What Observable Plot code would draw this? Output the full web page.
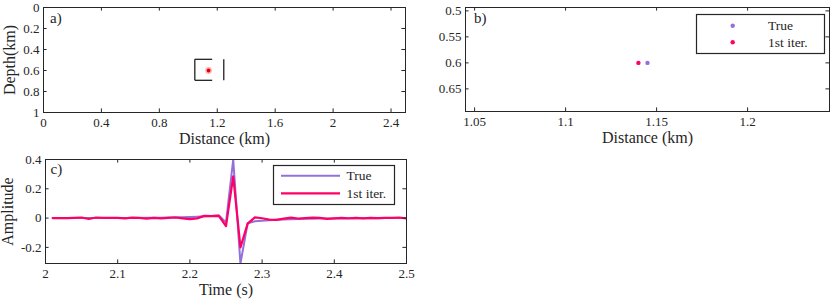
<!DOCTYPE html>
<html><head><meta charset="utf-8">
<script src="https://cdn.jsdelivr.net/npm/d3@7"></script>
<script src="https://cdn.jsdelivr.net/npm/@observablehq/plot@0.6"></script>
<style>
body{margin:0;background:#fff;}
#chart{position:relative;width:830px;height:300px;font-family:"Liberation Serif",serif;color:#262626;}
#chart svg{position:absolute;left:0;top:0;}
#chart svg text{font-family:"Liberation Serif",serif !important;font-weight:normal;}
</style></head><body><div id="chart"></div>
<script>
// ---------- data ----------
const timeS = [2.01,2.02,2.03,2.04,2.05,2.06,2.07,2.08,2.09,2.10,2.11,2.12,2.13,2.14,2.15,2.16,2.17,2.18,2.19,2.20,2.21,2.22,2.23,2.24,2.25,2.26,2.27,2.28,2.29,2.30,2.31,2.32,2.33,2.34,2.35,2.36,2.37,2.38,2.39,2.40,2.41,2.42,2.43,2.44,2.45,2.46,2.47,2.48,2.49,2.50];
const trueTrace = [0,0,0,0,0,0,0,0,0,0.001,0.001,0.001,0.001,0.002,0.002,0.003,0.004,0.005,0.006,0.008,0.010,0.012,0.015,0.020,-0.030,0.400,-0.310,-0.035,-0.022,-0.018,-0.015,-0.012,-0.010,-0.008,-0.006,-0.005,-0.004,-0.003,-0.003,-0.002,-0.002,-0.002,-0.001,-0.001,-0.001,-0.001,0,0,0,0];
const iterTrace = [0,0,0,0.002,0.004,-0.006,0.004,0.001,0.002,0.001,-0.002,0.003,0.001,-0.003,0.002,-0.002,0.001,0.004,-0.002,-0.007,-0.002,0.015,0.013,0.015,-0.055,0.285,-0.200,-0.038,0.005,-0.001,-0.010,-0.012,-0.004,0.003,-0.003,0,0.003,0.001,-0.005,-0.002,0.002,-0.001,0.001,-0.002,0.002,0,0.001,0.001,0.004,-0.002];
const seriesNames = ["True", "1st iter."];
const sourceX = [1.145, 1.14];      // distance (km): true, 1st iter.
const sourceZ = [0.6, 0.6];         // depth (km)
const zoomX = [1.045, 1.245];       // panel b window
const zoomZ = [0.4935, 0.6935];
const zoomBoxTopEnd = 1.165;        // visible extent of the broken top/bottom edges
const aXTicks = [0,0.4,0.8,1.2,1.6,2,2.4];
const aYTicks = [0,0.2,0.4,0.6,0.8,1];
const bXTicks = [1.05,1.1,1.15,1.2];
const bYTicks = [0.5,0.55,0.6,0.65];
const cXTicks = [2,2.1,2.2,2.3,2.4,2.5];
const cYTicks = [-0.2,0,0.2,0.4];

// ---------- styles ----------
const W = 830, H = 300;
const PURPLE = "#9370DB", RED = "#FF0066", AX = "#262626";
const FONT = "'Liberation Serif', serif";
const TL = 3.6;

const trace = timeS.map((t,i)=>({t, a: trueTrace[i], s: seriesNames[0]}))
  .concat(timeS.map((t,i)=>({t, a: iterTrace[i], s: seriesNames[1]})));
const sources = sourceX.map((x,i)=>({x, z: sourceZ[i], s: seriesNames[i]}));

function frameMarks(m, xt, yt) {
  const fw = W - m.left - m.right, fh = H - m.top - m.bottom;
  return [
    Plot.frame({stroke: AX}),
    Plot.tickX(xt, {x: d=>d, insetTop: fh - TL, stroke: AX}),
    Plot.tickX(xt, {x: d=>d, insetBottom: fh - TL, stroke: AX}),
    Plot.tickY(yt, {y: d=>d, insetRight: fw - TL, stroke: AX}),
    Plot.tickY(yt, {y: d=>d, insetLeft: fw - TL, stroke: AX}),
    Plot.axisX({ticks: xt, tickSize: 0, tickPadding: 5, tickFormat: d=>String(d), label: null, fontSize: 13, fontFamily: FONT}),
    Plot.axisY({ticks: yt, tickSize: 0, tickPadding: 4, tickFormat: d=>String(d), label: null, fontSize: 13, fontFamily: FONT})
  ];
}
function base(m) {
  return {width: W, height: H, marginLeft: m.left, marginRight: m.right, marginTop: m.top, marginBottom: m.bottom,
    style: {background: "transparent", fontFamily: FONT, color: AX, overflow: "visible"}};
}
function label(t, o) {
  return Plot.text([t], {text: d=>d, textAnchor: "middle", lineAnchor: "middle", fontSize: 16, fontFamily: FONT, ...o});
}

const chart = document.getElementById("chart");

// ---------- panel a ----------
const mA = {left: 43, right: 425, top: 7, bottom: 188};
const boxSegs = [
  {x1: zoomX[0], x2: zoomX[0], y1: zoomZ[0], y2: zoomZ[1]},
  {x1: zoomX[1], x2: zoomX[1], y1: zoomZ[0], y2: zoomZ[1]},
  {x1: zoomX[0], x2: zoomBoxTopEnd, y1: zoomZ[0], y2: zoomZ[0]},
  {x1: zoomX[0], x2: zoomBoxTopEnd, y1: zoomZ[1], y2: zoomZ[1]}
];
chart.appendChild(Plot.plot({
  ...base(mA),
  x: {domain: [0, 2.5]},
  y: {domain: [0, 1], reverse: true},
  marks: [
    Plot.link(boxSegs, {x1: "x1", x2: "x2", y1: "y1", y2: "y2", stroke: "#222", strokeWidth: 1.3}),
    Plot.dot([sources[1]], {x: "x", y: "z", r: 3.4, fill: "#ff7a7a", fillOpacity: 0.55}),
    Plot.dot([sources[1]], {x: "x", y: "z", r: 1.9, fill: "#e3000e"}),
    ...frameMarks(mA, aXTicks, aYTicks),
    label("Distance (km)", {frameAnchor: "bottom", dy: 26}),
    label("Depth(km)", {frameAnchor: "left", dx: -34, rotate: -90}),
    label("a)", {frameAnchor: "top-left", dx: 6.5, dy: 11, textAnchor: "start", fontSize: 15})
  ]
}));

// ---------- panel b ----------
const mB = {left: 465, right: 1, top: 7, bottom: 189};
chart.appendChild(Plot.plot({
  ...base(mB),
  x: {domain: zoomX},
  y: {domain: zoomZ, reverse: true},
  color: {domain: seriesNames, range: [PURPLE, RED]},
  marks: [
    Plot.dot(sources, {x: "x", y: "z", r: 2.2, fill: "s"}),
    ...frameMarks(mB, bXTicks, bYTicks),
    label("Distance (km)", {frameAnchor: "bottom", dy: 26.5}),
    label("b)", {frameAnchor: "top-left", dx: 8.5, dy: 11, textAnchor: "start", fontSize: 15})
  ]
}));

// ---------- panel c ----------
const mC = {left: 45, right: 424, top: 159, bottom: 37};
chart.appendChild(Plot.plot({
  ...base(mC),
  x: {domain: [2, 2.5]},
  y: {domain: [-0.31, 0.4]},
  color: {domain: seriesNames, range: [PURPLE, RED]},
  marks: [
    Plot.line(trace.filter(d=>d.s===seriesNames[0]), {x: "t", y: "a", stroke: "s", strokeWidth: 2, clip: true}),
    Plot.line(trace.filter(d=>d.s===seriesNames[1]), {x: "t", y: "a", stroke: "s", strokeWidth: 2.2, clip: true}),
    ...frameMarks(mC, cXTicks, cYTicks),
    label("Time (s)", {frameAnchor: "bottom", dy: 26.5}),
    label("Amplitude", {frameAnchor: "left", dx: -37.5, rotate: -90}),
    label("c)", {frameAnchor: "top-left", dx: 5, dy: 10, textAnchor: "start", fontSize: 15})
  ]
}));

// ---------- legends ----------
const ov = d3.create("svg").attr("width", W).attr("height", H)
  .style("font-family", FONT).style("overflow", "visible");
function legend(x, y, w, h, kind, mx, tx, rows) {
  ov.append("rect").attr("x", x).attr("y", y).attr("width", w).attr("height", h)
    .attr("fill", "#fff").attr("stroke", AX).attr("stroke-width", 1.2);
  rows.forEach((ry, i) => {
    const col = [PURPLE, RED][i];
    if (kind === "dot") ov.append("circle").attr("cx", mx).attr("cy", ry).attr("r", 2.2).attr("fill", col);
    else ov.append("line").attr("x1", mx[0]).attr("x2", mx[1]).attr("y1", ry).attr("y2", ry)
      .attr("stroke", col).attr("stroke-width", i ? 2.2 : 2);
    ov.append("text").attr("x", tx).attr("y", ry).attr("dy", "0.33em").attr("font-size", 13.5)
      .attr("fill", AX).text(seriesNames[i]);
  });
}
legend(696.5, 14.5, 128, 39, "dot", 732.7, 768, [25.7, 42.3]);
legend(273.5, 165.5, 121, 39, "line", [281, 340], 346.5, [175.7, 193.3]);
chart.appendChild(ov.node());
</script></body></html>
